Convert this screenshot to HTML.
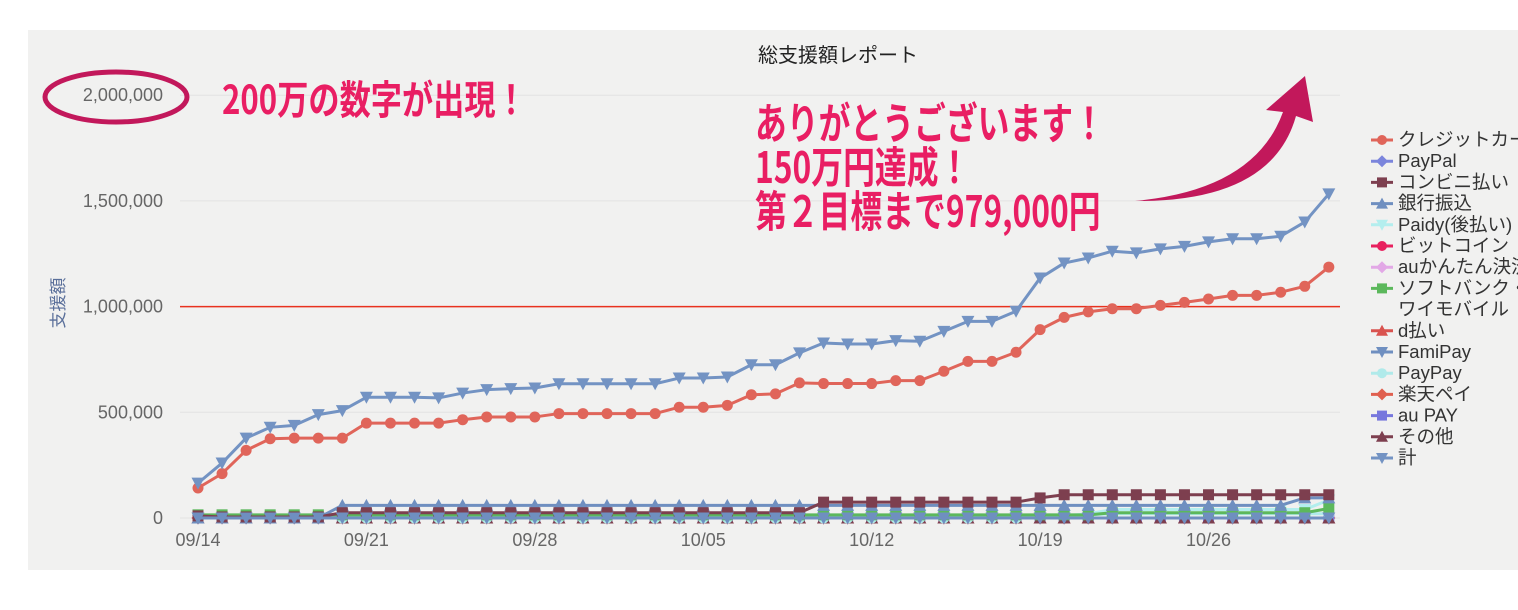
<!DOCTYPE html>
<html><head><meta charset="utf-8"><style>
html,body{margin:0;padding:0;background:#fff;overflow:hidden}
svg{display:block;font-family:"Liberation Sans","Noto Sans CJK JP",sans-serif}
</style></head><body>
<svg id="chart" width="1518" height="610" xmlns="http://www.w3.org/2000/svg">
<rect x="28" y="30" width="1490" height="540" fill="#f1f1f0"/>
<text x="838" y="62" text-anchor="middle" font-size="20" fill="#222">総支援額レポート</text>
<text transform="translate(64,303) rotate(-90)" text-anchor="middle" font-size="17" fill="#5a6f9a">支援額</text>
<g id="grid"></g><g id="series"></g><g id="legend"></g>
<ellipse cx="116" cy="97" rx="71" ry="25" fill="none" stroke="#c2185b" stroke-width="5"/>
<text x="222" y="114" font-size="40" font-weight="bold" fill="#e91e63" transform="translate(222,0) scale(0.78,1) translate(-222,0)" font-family="'Noto Sans CJK JP',sans-serif">200万の数字が出現！</text>
<g fill="#e91e63" font-size="43" font-weight="bold" font-family="'Noto Sans CJK JP',sans-serif" transform="translate(755,0) scale(0.74,1) translate(-755,0)">
<text x="755" y="139">ありがとうございます！</text>
<text x="755" y="183">150万円達成！</text>
<text x="755" y="227">第２目標まで979,000円</text>
</g>
<path d="M1135,201 Q1255,190 1283,112 L1266,110 L1305,76 L1313,122 L1296,116 Q1272,202 1135,201 Z" fill="#c2185b"/>
</svg>
<script>
const dateLabels = ["09/14","09/21","09/28","10/05","10/12","10/19","10/26"];
const yTicks = [0,500000,1000000,1500000,2000000];
const goalLine = 1000000;
const creditCard = [142,210,320,375,378,378,378,449,449,449,449,465,478,478,478,494,494,494,494,494,524,524,533,583,587,639,636,636,636,650,650,694,741,741,784,891,949,975,990,990,1006,1020,1036,1053,1053,1068,1096,1187];
const totalSum = [165,260,378,429,438,489,508,571,571,571,568,591,607,612,615,635,635,635,635,635,662,662,667,725,725,781,828,823,823,839,836,883,930,930,978,1135,1206,1230,1262,1254,1273,1285,1306,1321,1321,1333,1400,1533];
const convenience = [10,5,5,5,5,5,25,25,25,25,25,25,25,25,25,25,25,25,25,25,25,25,25,25,25,25,75,75,75,75,75,75,75,75,75,95,110,110,110,110,110,110,110,110,110,110,110,110];
const bankTransfer = [0,0,0,0,0,0,60,60,60,60,60,60,60,60,60,60,60,60,60,60,60,60,60,60,60,60,60,60,60,60,60,60,60,60,60,60,60,60,60,60,60,60,60,60,60,60,95,95];
const softbank = [15,15,15,15,15,15,15,15,15,15,15,15,15,15,15,15,15,15,15,15,15,15,15,15,15,15,15,15,15,15,15,15,15,15,15,15,15,15,25,25,25,25,25,25,25,25,25,45];
const paidy = [0,0,0,0,0,0,10,10,10,10,10,10,10,10,10,10,10,10,10,10,10,10,10,10,10,10,10,10,10,10,10,10,10,10,10,10,10,20,40,40,40,40,40,40,40,40,40,85];
const paypay = [0,0,0,0,0,0,0,0,0,0,0,0,0,0,0,0,0,0,0,0,0,0,0,0,0,0,0,0,0,0,0,0,0,0,0,15,15,15,20,20,20,20,20,20,20,20,20,20];
const zeros = new Array(48).fill(0);
const seriesNames = ["クレジットカード","PayPal","コンビニ払い","銀行振込","Paidy(後払い)","ビットコイン","auかんたん決済","ソフトバンク・","d払い","FamiPay","PayPay","楽天ペイ","au PAY","その他","計"];
const seriesData = [creditCard,zeros,convenience,bankTransfer,paidy,zeros,zeros,softbank,zeros,zeros,paypay,zeros,zeros,zeros,totalSum];
const seriesColors = ["#e0655a","#7b85dc","#7d3f4f","#6f8fc0","#b3eeee","#e8205e","#e2a8e6","#5cb85c","#d9534f","#6f8fc0","#b0eaea","#e0604f","#7777dd","#7d3f4f","#7393c3"];
const seriesMarkers = ["circle","diamond","square","tri","dtri","circle","diamond","square","tri","dtri","circle","diamond","square","tri","dtri"];
const NS="http://www.w3.org/2000/svg";
const x0=198, dx=24.06, yBase=518, pxPer=105.7/500000;
const X=i=>x0+i*dx;
const Y=v=>yBase-v*pxPer;
function mk(tag,attrs,parent){const e=document.createElementNS(NS,tag);for(const k in attrs)e.setAttribute(k,attrs[k]);parent.appendChild(e);return e;}
const grid=document.getElementById('grid');
yTicks.forEach(t=>{
  const l=mk('line',{x1:180,x2:1340,y1:Y(t),y2:Y(t),stroke:'#e2e2e2','stroke-width':1},grid);
  
  
  const tx=mk('text',{x:163,y:Y(t)+6,'text-anchor':'end','font-size':18,fill:'#666'},grid);
  tx.textContent=t.toLocaleString('en-US');
  
  
});
dateLabels.forEach((d,k)=>{
  const tx=mk('text',{x:X(k*7),y:546,'text-anchor':'middle','font-size':18,fill:'#666'},grid);
  tx.textContent=d;
  
  
});
const gl=mk('line',{x1:180,x2:1340,y1:Y(goalLine),y2:Y(goalLine),stroke:'#e8321e','stroke-width':1.5},grid);


function marker(type,x,y,c,parent,s){
  let e;
  if(type==='circle')e=mk('circle',{cx:x,cy:y,r:s,fill:c},parent);
  else if(type==='square')e=mk('rect',{x:x-s,y:y-s,width:2*s,height:2*s,fill:c},parent);
  else if(type==='diamond')e=mk('polygon',{points:`${x},${y-s-1} ${x+s+1},${y} ${x},${y+s+1} ${x-s-1},${y}`,fill:c},parent);
  else if(type==='tri')e=mk('polygon',{points:`${x},${y-s-1} ${x+s+1},${y+s} ${x-s-1},${y+s}`,fill:c},parent);
  else e=mk('polygon',{points:`${x},${y+s+1} ${x+s+1},${y-s} ${x-s-1},${y-s}`,fill:c},parent);
  return e;
}
const sg=document.getElementById('series');
const order=[1,5,6,8,11,12,13,10,4,7,3,2,9,0,14];
order.forEach(si=>{
  const data=seriesData[si];
  const g=mk('g',{},sg);
  
  
  const p=mk('polyline',{points:data.map((v,i)=>X(i)+','+Y(v*1000)).join(' '),fill:'none',stroke:seriesColors[si],'stroke-width':3,'stroke-linejoin':'round'},g);
  
  
  data.forEach((v,i)=>{
    const m=marker(seriesMarkers[si],X(i),Y(v*1000),seriesColors[si],g,5.5);
    
    
  });
});
const lg=document.getElementById('legend');
let row=0;
seriesNames.forEach((n,i)=>{
  const y=140+row*21.2;
  const g=mk('g',{},lg);
  
  
  mk('line',{x1:1371,x2:1393,y1:y,y2:y,stroke:seriesColors[i],'stroke-width':3},g);
  marker(seriesMarkers[i],1382,y,seriesColors[i],g,5);
  const t=mk('text',{x:1398,y:y+6,'font-size':18.5,fill:'#333'},g);
  t.textContent=n;
  row++;
  if(i===7){const t2=mk('text',{x:1398,y:140+row*21.2+6,'font-size':18.5,fill:'#333'},g);t2.textContent='ワイモバイル';row++;}
});
</script>
</body></html>
